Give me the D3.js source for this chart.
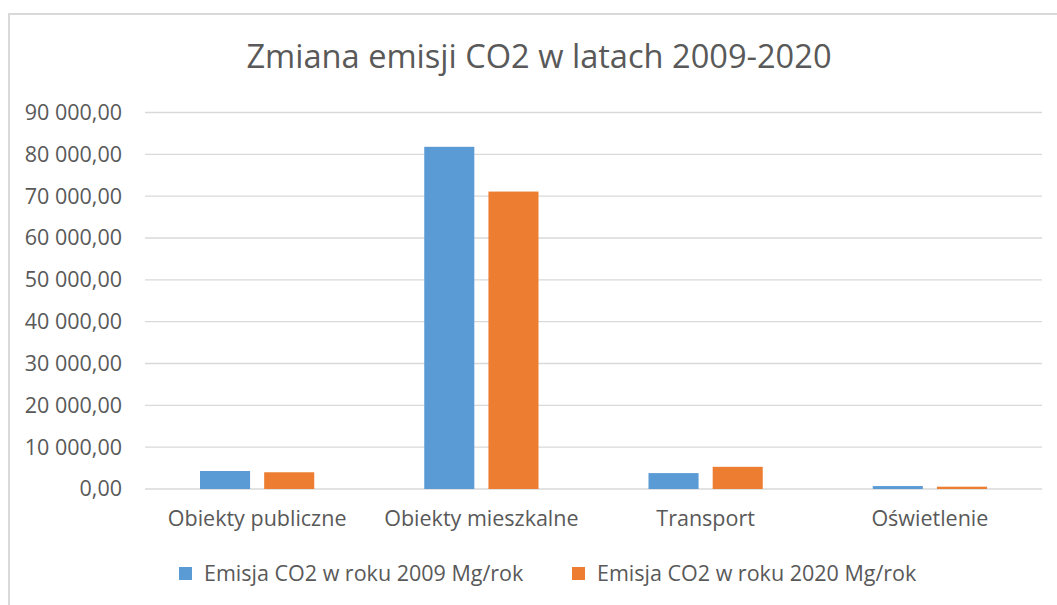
<!DOCTYPE html>
<html>
<head>
<meta charset="utf-8">
<script src="https://cdn.jsdelivr.net/npm/d3@7"></script>
<style>
  body { margin: 0; background: #fff; }
  text { font-family: "Open Sans", "Noto Sans", sans-serif; fill: #595959; }
</style>
</head>
<body>
<div id="vis"></div>
<script>
var categories = ["Obiekty publiczne", "Obiekty mieszkalne", "Transport", "Oświetlenie"];
var seriesNames = ["Emisja CO2 w roku 2009 Mg/rok", "Emisja CO2 w roku 2020 Mg/rok"];
var values2009 = [4300, 81800, 3800, 700];
var values2020 = [4000, 71100, 5300, 550];
var yTicks = [0, 10000, 20000, 30000, 40000, 50000, 60000, 70000, 80000, 90000];
var colours = ["#5B9BD5", "#ED7D31"];

var width = 1057, height = 605;
var margin = { top: 112.5, bottom: 116, left: 145, right: 15 };
var labelSize = '21.5px';

var svg = d3.select('#vis')
    .append('svg')
    .attr('width', width)
    .attr('height', height);

// chart frame (cut off at right and bottom)
svg.append('path')
    .attr('d', 'M9,' + height + ' V14 H' + width)
    .attr('fill', 'none')
    .attr('stroke', '#d9d9d9')
    .attr('stroke-width', 2);

svg.append('text')
    .attr('x', 539)
    .attr('y', 68)
    .attr('text-anchor', 'middle')
    .style('font-size', '32.6px')
    .text('Zmiana emisji CO2 w latach 2009-2020');

var x_scale = d3.scaleBand()
    .domain(categories)
    .range([margin.left, width - margin.right]);

// bars 50 wide with a 14px gap, group centred in band
var x_inner = d3.scaleBand()
    .domain(seriesNames)
    .range([55, x_scale.bandwidth() - 55])
    .paddingInner(0.22);

var y_scale = d3.scaleLinear()
    .domain([0, 90000])
    .range([height - margin.bottom, margin.top]);

var fmt = function(d) {
    return d3.format(',.2f')(d).replace(/,/g, ' ').replace('.', ',');
};

// gridlines
svg.append('g')
    .selectAll('line')
    .data(yTicks)
    .enter()
    .append('line')
    .attr('x1', margin.left)
    .attr('x2', width - margin.right)
    .attr('y1', function(d) { return y_scale(d); })
    .attr('y2', function(d) { return y_scale(d); })
    .attr('stroke', '#d9d9d9')
    .attr('stroke-width', 1.3);

var y_axis = d3.axisLeft(y_scale)
    .tickValues(yTicks)
    .tickFormat(fmt)
    .tickSize(0)
    .tickPadding(23);

svg.append('g')
    .attr('class', 'y axis')
    .attr('transform', 'translate(' + margin.left + ',0)')
    .call(y_axis)
    .call(function(g) { g.select('.domain').remove(); })
    .selectAll('text')
    .style('font-size', labelSize)
    .style('font-family', '"Open Sans", "Noto Sans", sans-serif')
    .attr('fill', '#595959');

var rows = categories.map(function(c, i) {
    return { cat: c, vals: [values2009[i], values2020[i]] };
});

var groups = svg.append('g')
    .selectAll('g')
    .data(rows)
    .enter()
    .append('g')
    .attr('transform', function(d) { return 'translate(' + x_scale(d.cat) + ',0)'; });

groups.selectAll('rect')
    .data(function(d) {
        return d.vals.map(function(v, j) { return { s: seriesNames[j], v: v, j: j }; });
    })
    .enter()
    .append('rect')
    .attr('x', function(d) { return x_inner(d.s); })
    .attr('width', x_inner.bandwidth())
    .attr('y', function(d) { return y_scale(d.v); })
    .attr('height', function(d) { return y_scale(0) - y_scale(d.v); })
    .attr('fill', function(d) { return colours[d.j]; });

var x_axis = d3.axisBottom(x_scale)
    .tickSize(0)
    .tickPadding(22);

svg.append('g')
    .attr('class', 'x axis')
    .attr('transform', 'translate(0,' + y_scale(0) + ')')
    .call(x_axis)
    .call(function(g) { g.select('.domain').remove(); })
    .selectAll('text')
    .style('font-size', labelSize)
    .style('font-family', '"Open Sans", "Noto Sans", sans-serif')
    .attr('fill', '#595959');

// legend
var legendX = [179, 572];
var legend = svg.append('g')
    .selectAll('g')
    .data(seriesNames)
    .enter()
    .append('g')
    .attr('transform', function(d, i) { return 'translate(' + legendX[i] + ',567)'; });

legend.append('rect')
    .attr('width', 13)
    .attr('height', 13)
    .attr('fill', function(d, i) { return colours[i]; });

legend.append('text')
    .attr('x', 25)
    .attr('y', 14)
    .style('font-size', labelSize)
    .text(function(d) { return d; });
</script>
</body>
</html>
